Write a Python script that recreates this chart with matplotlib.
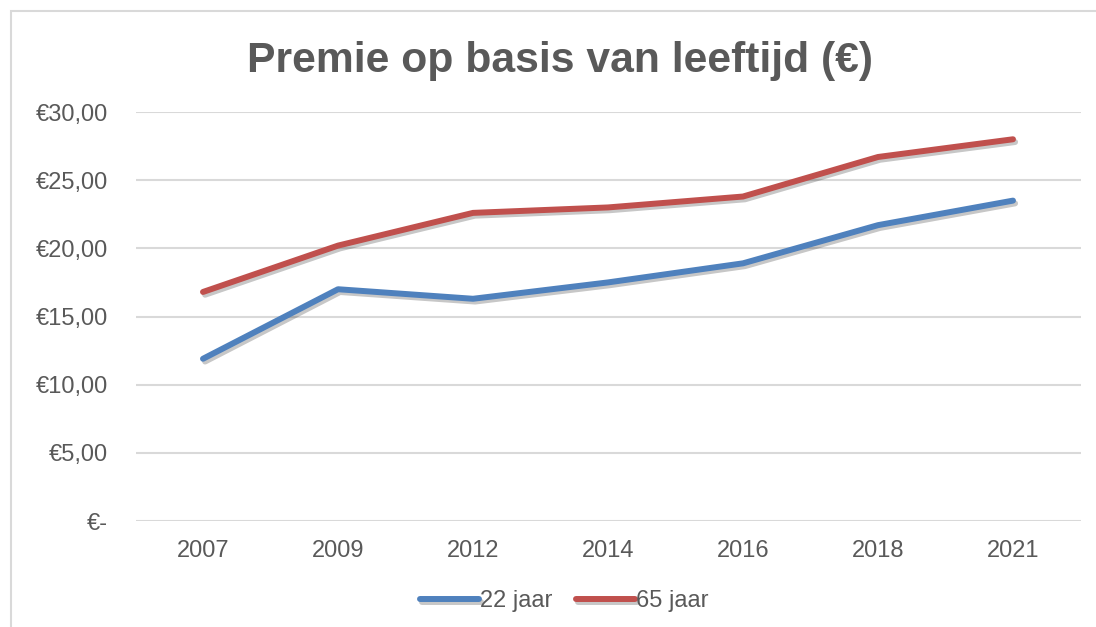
import matplotlib
matplotlib.use("Agg")
import matplotlib.pyplot as plt
import matplotlib.patheffects as pe
from matplotlib.patches import Rectangle

years = ["2007", "2009", "2012", "2014", "2016", "2018", "2021"]
age22 = [11.9, 17.0, 16.3, 17.5, 18.9, 21.7, 23.5]
age65 = [16.8, 20.2, 22.6, 23.0, 23.8, 26.7, 28.0]
yticks = [0, 5, 10, 15, 20, 25, 30]
ytick_labels = ["€-", "€5,00", "€10,00", "€15,00", "€20,00", "€25,00", "€30,00"]
title = "Premie op basis van leeftijd (€)"

plt.rcParams['font.family'] = ['Liberation Sans', 'DejaVu Sans']
txt = "#595959"

fig = plt.figure(figsize=(10.96, 6.27), dpi=100)
W, H = 1096, 627
fig.add_artist(Rectangle((11 / W, -0.1), 2, 1 - 11 / H + 0.1, transform=fig.transFigure,
                         fill=False, edgecolor="#D9D9D9", linewidth=1.5))

ax = fig.add_axes([135.5 / W, 1 - 521 / H, 945 / W, (521 - 112) / H])
x = list(range(len(years)))
shadow = [pe.SimpleLineShadow(offset=(1.5, -2), shadow_color="black", alpha=0.22), pe.Normal()]
ax.plot(x, age22, color="#4F81BD", lw=4.3, solid_capstyle="round", solid_joinstyle="round",
        label="22 jaar", path_effects=shadow)
ax.plot(x, age65, color="#C0504D", lw=4.3, solid_capstyle="round", solid_joinstyle="round",
        label="65 jaar", path_effects=shadow)

ax.set_xlim(-0.5, len(years) - 0.5)
ax.set_ylim(0, 30)
ax.set_yticks(yticks)
ax.set_yticklabels(ytick_labels)
ax.set_xticks(x)
ax.set_xticklabels(years)
ax.grid(axis="y", color="#D9D9D9", lw=1.5)
ax.set_axisbelow(True)
for s in ax.spines.values():
    s.set_visible(False)
ax.tick_params(length=0, labelsize=17, labelcolor=txt)
ax.tick_params(axis="y", pad=20)
ax.tick_params(axis="x", pad=14)

fig.text(560 / W, 1 - 72 / H, title, ha="center", va="baseline", fontsize=30.7,
         fontweight="bold", color=txt)

leg = fig.legend(loc="center", bbox_to_anchor=(564 / W, 1 - 601 / H), ncol=2, frameon=False,
                 fontsize=17, handlelength=2.5, handletextpad=0.05, columnspacing=1.0,
                 labelcolor=txt)
for h in leg.get_lines():
    h.set_linewidth(4.3)
    h.set_solid_capstyle("round")

fig.savefig("out.png", dpi=100)
